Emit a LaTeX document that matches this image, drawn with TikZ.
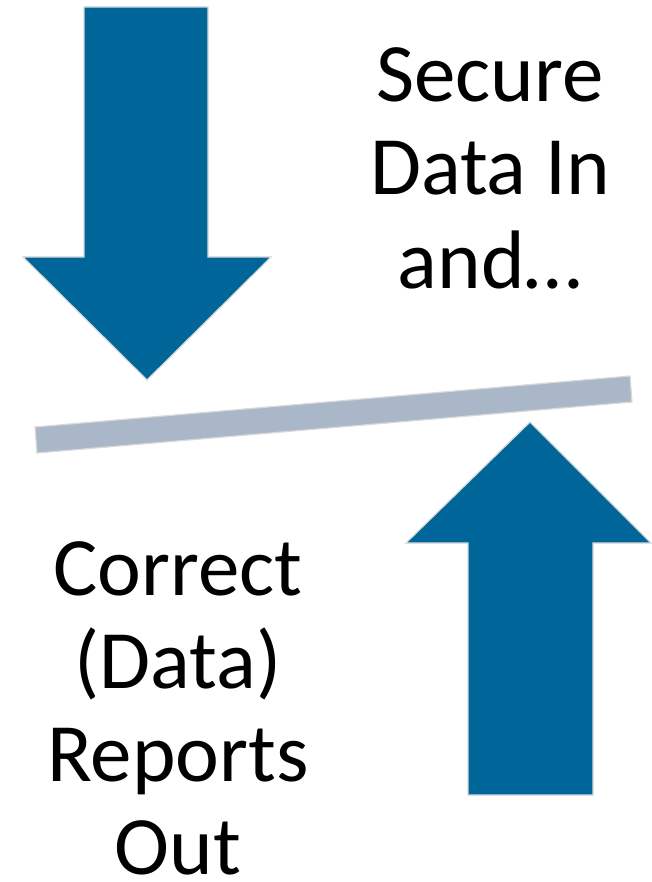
\documentclass[tikz,border=0pt]{standalone}
\usepackage{fontspec}
\setmainfont{Carlito}
\definecolor{arrowblue}{RGB}{0,102,153}
\definecolor{bargrey}{RGB}{170,183,200}
\begin{document}
\begin{tikzpicture}[x=1pt,y=-1pt,
    bigarrow/.style={fill=arrowblue,draw=black!15,line width=1.2pt},
    lever/.style={fill=bargrey,draw=black!15,line width=1.2pt},
    bigtext/.style={align=center,inner sep=0pt,font=\fontsize{83}{93}\selectfont}]
            \useasboundingbox[fill=white] (0,0) rectangle (651,882);
            \draw[bigarrow] (84,7)--(208,7)--(208,257)--(271,257)--(147,380)--(23,257)--(84,257)--cycle;
            \draw[lever] (35,427)--(630,376)--(632,402)--(37,453)--cycle;
            \draw[bigarrow] (468,795)--(593,795)--(593,543)--(651,543)--(530,422)--(406,543)--(468,543)--cycle;
            % base = last line of each block
            \node[bigtext,anchor=base] (datain) at (490,288) {Secure\\Data In\\and\dots};
            \node[bigtext,anchor=base] (reportsout) at (178,874) {Correct\\(Data)\\Reports\\Out};
        \end{tikzpicture}
\end{document}
